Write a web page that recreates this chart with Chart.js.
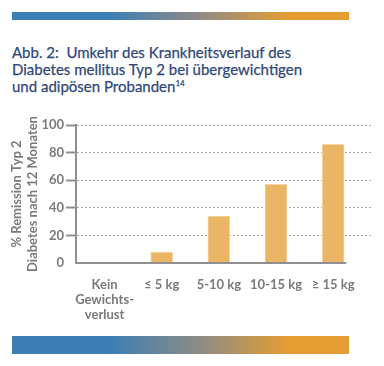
<!DOCTYPE html>
<html>
<head>
<meta charset="utf-8">
<script src="https://cdn.jsdelivr.net/npm/chart.js@4.4.0/dist/chart.umd.min.js"></script>
<style>
  body { margin: 0; width: 384px; height: 366px; background: #fff; position: relative; overflow: hidden; font-family: Lato, sans-serif; }
  .band { position: absolute; left: 12px; width: 337px;
    background: linear-gradient(to right, #3b7fb6 0%, #3b7fb6 29%, #8c8a87 55%, #e59d33 82%, #e59d33 100%); }
  #topBand { top: 12px; height: 8px; }
  #bottomBand { top: 336px; height: 18px; }
  h1 { position: absolute; left: 12px; top: 44px; margin: 0; font-size: 15px; font-weight: normal; line-height: 17px; color: #2f4878; -webkit-text-stroke: 0.25px #2f4878; }
  h1 sup { font-size: 8px; vertical-align: top; line-height: 1; position: relative; top: 1px; }
  #wrap { position: absolute; left: 0; top: 110px; width: 384px; height: 215px; }
</style>
</head>
<body>
<div class="band" id="topBand"></div>
<h1>Abb. 2:&nbsp; Umkehr des Krankheitsverlauf des<br>Diabetes mellitus Typ 2 bei übergewichtigen<br>und adipösen Probanden<sup>14</sup></h1>
<div id="wrap"><canvas id="remissionChart"></canvas></div>
<div class="band" id="bottomBand"></div>
<script>
// Werte
const categories = [['Kein', 'Gewichts-', 'verlust'], '≤ 5 kg', '5-10 kg', '10-15 kg', '≥ 15 kg'];
const remission = [0, 8, 34, 57, 86];
const yTicks = [0, 20, 40, 60, 80, 100];
const yTitle = ['% Remission Typ 2', 'Diabetes nach 12 Monaten'];

const grey = '#7a7a7a';
const axisGrey = '#8f8f8f';

// x-Achse endet kurz hinter dem letzten Balken
const baselinePlugin = {
    id: 'baseline',
    afterDatasetsDraw(chart) {
        const { ctx, chartArea, scales: { x, y } } = chart;
        const yPos = y.getPixelForValue(0);
        ctx.save();
        ctx.strokeStyle = axisGrey;
        ctx.lineWidth = 2;
        ctx.beginPath();
        ctx.moveTo(chartArea.left - 1, yPos);
        ctx.lineTo(x.getPixelForValue(categories.length - 1 + 0.23), yPos);
        ctx.stroke();
        ctx.restore();
    }
};

new Chart(document.getElementById('remissionChart').getContext('2d'), {
    type: 'bar',
    data: {
        datasets: [{
            data: remission.map((v, i) => ({ x: i, y: v })),
            backgroundColor: '#eab665',
            borderColor: '#f4d7a6',
            borderWidth: 1,
            barThickness: 22
        }]
    },
    options: {
        responsive: true,
        maintainAspectRatio: false,
        animation: false,
        layout: { padding: { left: 0, right: 12, top: 15, bottom: 0 } },
        plugins: { legend: { display: false }, tooltip: { enabled: false } },
        scales: {
            x: {
                type: 'linear',
                min: -0.5,
                max: 4.68,
                offset: false,
                afterBuildTicks: s => { s.ticks = categories.map((c, i) => ({ value: i })); },
                ticks: {
                    autoSkip: false,
                    maxRotation: 0,
                    padding: 14,
                    color: grey,
                    font: { family: 'Lato', size: 13, weight: 'bold', lineHeight: 1.15 },
                    callback: v => categories[v]
                },
                grid: { display: false, drawTicks: false, offset: false },
                border: { display: false },
                afterFit: s => { s.height = 62; }
            },
            y: {
                min: 0,
                max: 100,
                afterBuildTicks: s => { s.ticks = yTicks.map(v => ({ value: v })); },
                ticks: {
                    padding: 2,
                    color: grey,
                    font: { family: 'Lato', size: 13, weight: 'bold' }
                },
                grid: {
                    color: c => c.tick && c.tick.value === 0 ? 'rgba(0,0,0,0)' : '#a8a8a8',
                    lineWidth: 1,
                    tickLength: 10,
                    tickWidth: 2,
                    tickColor: c => c.tick && c.tick.value === 0 ? 'rgba(0,0,0,0)' : axisGrey
                },
                border: { color: axisGrey, width: 2, dash: [2, 2] },
                title: {
                    display: true,
                    text: yTitle,
                    color: grey,
                    font: { family: 'Lato', size: 13, weight: 'bold', lineHeight: 1.2 },
                    padding: { top: 9, bottom: 0 }
                },
                afterFit: s => { s.width = 76; }
            }
        }
    },
    plugins: [baselinePlugin]
});
</script>
</body>
</html>
